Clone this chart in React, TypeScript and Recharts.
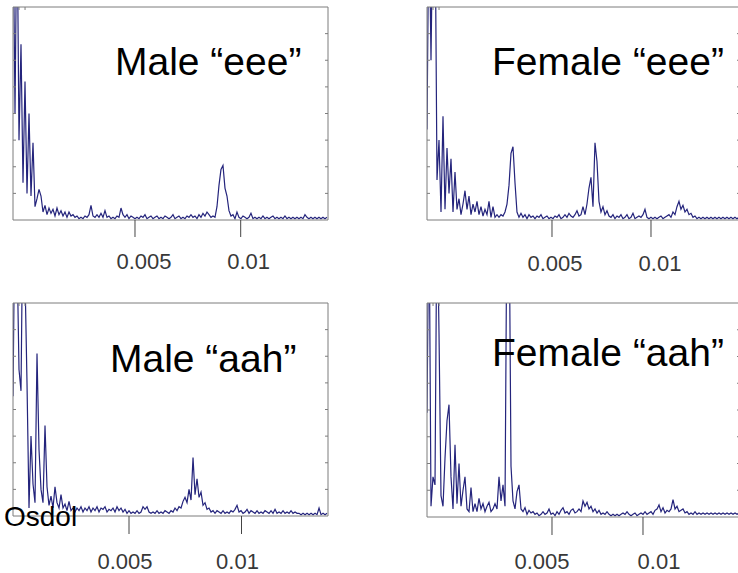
import { LineChart, Line, XAxis, YAxis } from 'recharts';

// autocorrelation-like traces (0 = floor, 8 = top of the box)
const maleEee = [
  12, 4, 12, 3.0, 6.6, 1.4, 5.2, 1.0, 4.0, 0.9,
  2.9, 0.5, 0.8, 1.15, 0.9, 0.3, 0.55, 0.2, 0.45, 0.25,
  0.4, 0.15, 0.45, 0.2, 0.35, 0.15, 0.3, 0.1, 0.3, 0.15,
  0.2, 0.1, 0.15, 0.05, 0.1, 0.05, 0.15, 0.1, 0.2, 0.55,
  0.15, 0.1, 0.2, 0.1, 0.25, 0.1, 0.35, 0.1, 0.15, 0.05,
  0.1, 0.05, 0.15, 0.1, 0.45, 0.2, 0.1, 0.2, 0.05, 0.15,
  0.1, 0.05, 0.1, 0.05, 0.15, 0.1, 0.2, 0.05, 0.1, 0.15,
  0.05, 0.1, 0.15, 0.05, 0.1, 0.05, 0.15, 0.1, 0.05, 0.1,
  0.2, 0.05, 0.1, 0.15, 0.05, 0.1, 0.05, 0.15, 0.1, 0.2,
  0.1, 0.15, 0.05, 0.2, 0.1, 0.25, 0.15, 0.3, 0.2, 0.1,
  0.15, 0.1, 0.5, 1.3, 1.9, 2.05, 1.2, 0.9, 0.35, 0.15,
  0.2, 0.05, 0.3, 0.1, 0.05, 0.15, 0.1, 0.05, 0.1, 0.25,
  0.05, 0.1, 0.05, 0.1, 0.05, 0.15, 0.05, 0.1, 0.05, 0.1,
  0.15, 0.05, 0.1, 0.05, 0.1, 0.05, 0.15, 0.05, 0.1, 0.05,
  0.1, 0.05, 0.1, 0.05, 0.1, 0.05, 0.2, 0.1, 0.05, 0.1,
  0.05, 0.1, 0.05, 0.1, 0.05, 0.1, 0.05, 0.1,
];

const femaleEee = [
  3.4, 12, 6, 12, 12, 1.5, 3.0, 0.3, 3.9, 0.4,
  2.7, 1.0, 2.3, 0.3, 1.8, 0.4, 0.8, 0.2, 0.6, 1.1,
  0.4, 0.9, 0.2, 0.6, 0.3, 0.7, 0.2, 0.5, 0.15, 0.4,
  0.2, 0.7, 0.1, 0.5, 0.1, 0.2, 0.1, 0.2, 0.15, 0.3,
  0.6, 1.3, 2.5, 2.75, 1.4, 0.3, 0.1, 0.25, 0.1, 0.2,
  0.05, 0.2, 0.1, 0.15, 0.05, 0.15, 0.1, 0.2, 0.05, 0.1,
  0.15, 0.05, 0.1, 0.05, 0.15, 0.1, 0.2, 0.05, 0.1, 0.2,
  0.1, 0.25, 0.15, 0.1, 0.2, 0.35, 0.15, 0.2, 0.5, 0.2,
  0.6, 1.2, 1.6, 0.5, 2.9, 2.2, 0.7, 0.3, 0.5, 0.2,
  0.35, 0.15, 0.1, 0.2, 0.05, 0.15, 0.1, 0.2, 0.05, 0.1,
  0.2, 0.05, 0.1, 0.25, 0.05, 0.1, 0.15, 0.1, 0.2, 0.4,
  0.1, 0.05, 0.1, 0.05, 0.1, 0.05, 0.1, 0.15, 0.05, 0.1,
  0.15, 0.2, 0.1, 0.3, 0.2, 0.5, 0.7, 0.4, 0.55, 0.3,
  0.4, 0.2, 0.25, 0.1, 0.15, 0.05, 0.1, 0.05, 0.1, 0.05,
  0.1, 0.05, 0.1, 0.05, 0.1, 0.05, 0.1, 0.05, 0.1, 0.05,
  0.1, 0.05, 0.1, 0.05, 0.1, 0.05, 0.1,
];

const maleAah = [
  4.5, 12, 10, 5.5, 4.7, 12, 9, 5.0, 0.3, 3.0,
  1.2, 0.5, 6.1, 2.5, 1.0, 0.5, 3.4, 1.1, 0.4, 0.75,
  0.3, 1.1, 0.5, 0.3, 0.8, 0.3, 0.45, 0.2, 0.55, 0.2,
  0.3, 0.15, 0.3, 0.2, 0.35, 0.15, 0.3, 0.2, 0.35, 0.15,
  0.3, 0.2, 0.35, 0.15, 0.3, 0.25, 0.35, 0.15, 0.25, 0.2,
  0.3, 0.15, 0.35, 0.2, 0.3, 0.15, 0.25, 0.1, 0.2, 0.1,
  0.15, 0.1, 0.2, 0.1, 0.15, 0.35, 0.25, 0.35, 0.15, 0.1,
  0.15, 0.1, 0.2, 0.1, 0.15, 0.1, 0.2, 0.15, 0.1, 0.2,
  0.15, 0.3, 0.2, 0.35, 0.3, 0.55, 0.7, 0.5, 1.0, 0.6,
  2.2, 0.8, 1.4, 0.7, 0.9, 0.4, 0.5, 0.25, 0.3, 0.15,
  0.2, 0.1, 0.2, 0.15, 0.1, 0.2, 0.1, 0.15, 0.1, 0.2,
  0.15, 0.25, 0.4, 0.15, 0.2, 0.1, 0.15, 0.25, 0.1, 0.2,
  0.15, 0.1, 0.2, 0.1, 0.15, 0.1, 0.2, 0.15, 0.1, 0.2,
  0.1, 0.25, 0.1, 0.15, 0.1, 0.2, 0.1, 0.15, 0.1, 0.2,
  0.1, 0.15, 0.1, 0.1, 0.05, 0.1, 0.05, 0.1, 0.05, 0.1,
  0.05, 0.1, 0.05, 0.3, 0.05, 0.1, 0.05, 0.1,
];

const femaleAah = [
  3.9, 12, 0.4, 1.5, 1.2, 12, 6.9, 0.8, 0.4, 2.2,
  3.6, 4.2, 1.5, 0.3, 2.7, 0.5, 2.0, 0.4, 1.0, 1.5,
  0.3, 0.2, 1.1, 0.2, 0.5, 0.2, 0.7, 0.3, 0.5, 0.2,
  0.4, 0.55, 0.2, 0.3, 0.5, 0.3, 1.5, 0.6, 1.2, 0.4,
  12, 12, 1.9, 0.6, 0.3, 0.95, 1.2, 0.3, 0.2, 0.35,
  0.1, 0.25, 0.15, 0.2, 0.1, 0.15, 0.05, 0.1, 0.2, 0.1,
  0.15, 0.3, 0.1, 0.15, 0.05, 0.2, 0.1, 0.25, 0.35, 0.15,
  0.2, 0.1, 0.25, 0.3, 0.15, 0.2, 0.3, 0.2, 0.6, 0.4,
  0.55, 0.3, 0.4, 0.2, 0.3, 0.15, 0.25, 0.1, 0.15, 0.1,
  0.2, 0.1, 0.05, 0.1, 0.05, 0.1, 0.05, 0.1, 0.15, 0.1,
  0.2, 0.1, 0.05, 0.1, 0.15, 0.05, 0.1, 0.15, 0.1, 0.2,
  0.1, 0.15, 0.2, 0.1, 0.25, 0.3, 0.45, 0.2, 0.35, 0.15,
  0.25, 0.2, 0.3, 0.65, 0.3, 0.4, 0.2, 0.25, 0.3, 0.15,
  0.2, 0.1, 0.15, 0.1, 0.2, 0.1, 0.15, 0.1, 0.15, 0.1,
  0.15, 0.1, 0.15, 0.1, 0.15, 0.1, 0.15, 0.1, 0.15, 0.1,
  0.15, 0.1, 0.15, 0.1, 0.15, 0.1, 0.15,
];

const TITLES = ['Male “eee”', 'Female “eee”', 'Male “aah”', 'Female “aah”'];
const TICK_VALUES = [0.005, 0.01];
const TICK_LABELS = ['0.005', '0.01'];
const FRAME_TICKS_X = [1, 2, 3, 4, 5, 6];
const FRAME_TICKS_Y = [1, 2, 3, 4, 5, 6, 7];
const CREDIT = 'Osdol';

const FONT = '"Liberation Sans", Arial, sans-serif';
const TRACE = '#24247c';
const FRAME = '#7d7d7d';

// the frame axes take 1px each (recharts skips 0-size axes), margins account for it
const panels = [
  {
    title: TITLES[0], values: maleEee, lagStart: -0.000771, lagStep: 0.0000946, lagEnd: 0.01413,
    left: 0, top: 0, width: 340, height: 290, margin: { top: 7, right: 12, bottom: 0, left: 13 },
    axisHeight: 70, tickSize: 17, tickMargin: 16, shift: [9, 8], titleX: 115, titleY: 75,
  },
  {
    title: TITLES[1], values: femaleEee, lagStart: -0.001313, lagStep: 0.000101, lagEnd: 0.014495,
    left: 400, top: 0, width: 345, height: 290, margin: { top: 7, right: 5, bottom: 0, left: 27 },
    axisHeight: 70, tickSize: 17, tickMargin: 18, shift: [3, 9], titleX: 492, titleY: 75,
  },
  {
    title: TITLES[2], values: maleAah, lagStart: -0.000156, lagStep: 0.0000889, lagEnd: 0.013844,
    left: 0, top: 290, width: 340, height: 283, margin: { top: 13, right: 12, bottom: 0, left: 13 },
    axisHeight: 57, tickSize: 18, tickMargin: 19, shift: [-4, -4], titleX: 110, titleY: 372,
  },
  {
    title: TITLES[3], values: femaleAah, lagStart: -0.001868, lagStep: 0.0001099, lagEnd: 0.01533,
    left: 400, top: 290, width: 345, height: 283, margin: { top: 13, right: 5, bottom: 0, left: 27 },
    axisHeight: 56, tickSize: 18, tickMargin: 18, shift: [-10, 16], titleX: 492, titleY: 366,
  },
];

const LagTick = ({ x, y, payload, shift }: any) => {
  const i = TICK_VALUES.indexOf(payload.value);
  return (
    <text x={x + (shift[i] ?? 0)} y={y} dy="0.71em" textAnchor="middle" fontSize={22} fill="#383838" fontFamily={FONT}>
      {TICK_LABELS[i]}
    </text>
  );
};

const blank = () => '';

const Panel = ({ p }: { p: (typeof panels)[number] }) => {
  const rows = p.values.map((v, i) => ({ lag: p.lagStart + i * p.lagStep, amp: v }));
  return (
    <div style={{ position: 'absolute', left: p.left, top: p.top }}>
      <LineChart width={p.width} height={p.height} data={rows} margin={p.margin}>
        <XAxis
          dataKey="lag"
          type="number"
          domain={[p.lagStart, p.lagEnd]}
          allowDataOverflow
          ticks={TICK_VALUES}
          height={p.axisHeight}
          tickSize={p.tickSize}
          tickMargin={p.tickMargin}
          axisLine={{ stroke: FRAME }}
          tickLine={{ stroke: '#444' }}
          tick={<LagTick shift={p.shift} />}
        />
        <XAxis
          xAxisId="frame"
          orientation="top"
          type="number"
          domain={[0, 7]}
          allowDataOverflow
          ticks={FRAME_TICKS_X}
          height={1}
          mirror
          tickSize={3}
          tickFormatter={blank}
          axisLine={{ stroke: FRAME }}
          tickLine={{ stroke: FRAME }}
        />
        <YAxis
          type="number"
          domain={[0, 8]}
          allowDataOverflow
          ticks={FRAME_TICKS_Y}
          width={1}
          mirror
          tickSize={3}
          tickFormatter={blank}
          axisLine={{ stroke: FRAME }}
          tickLine={{ stroke: FRAME }}
        />
        <YAxis
          yAxisId="right"
          orientation="right"
          type="number"
          domain={[0, 8]}
          allowDataOverflow
          ticks={FRAME_TICKS_Y}
          width={1}
          mirror
          tickSize={3}
          tickFormatter={blank}
          axisLine={{ stroke: FRAME }}
          tickLine={{ stroke: FRAME }}
        />
        <Line
          type="linear"
          dataKey="amp"
          stroke={TRACE}
          strokeWidth={1.2}
          dot={false}
          isAnimationActive={false}
        />
      </LineChart>
    </div>
  );
};

export default function App() {
  return (
    <div
      style={{
        position: 'absolute',
        left: 0,
        top: 0,
        width: 738,
        height: 573,
        overflow: 'hidden',
        background: '#fff',
        fontFamily: FONT,
      }}
    >
      {panels.map((p) => (
        <Panel key={p.title} p={p} />
      ))}
      <svg width={738} height={573} style={{ position: 'absolute', left: 0, top: 0, pointerEvents: 'none' }}>
        {panels.map((p) => (
          <text key={p.title} x={p.titleX} y={p.titleY} fontSize={39} fill="#000" fontFamily={FONT}>
            {p.title}
          </text>
        ))}
        <text x={4} y={526} fontSize={28} fill="#000" fontFamily={FONT}>
          {CREDIT}
        </text>
      </svg>
    </div>
  );
}
